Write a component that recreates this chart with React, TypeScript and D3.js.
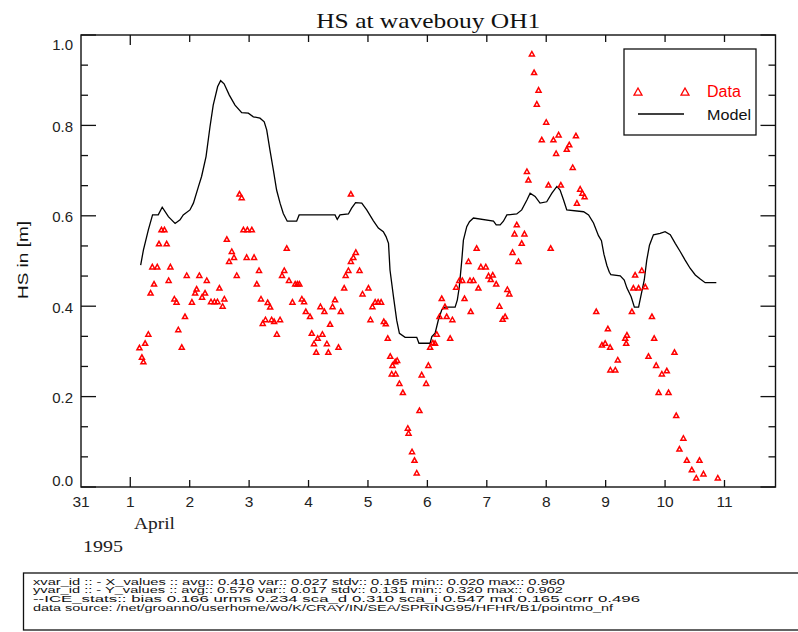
import React from "react";
import * as d3 from "d3";

// Hours since 1 April 1995 00:00
const obsHours = [3.7,4.7,5.3,6.0,7.3,8.2,8.9,9.6,10.9,11.6,12.6,13.8,14.7,15.5,16.2,17.8,18.7,19.4,20.8,22.1,22.8,24.9,26.2,26.8,27.9,29.0,30.2,30.9,32.6,34.0,35.2,36.0,37.3,38.0,39.0,39.9,41.0,41.9,43.0,44.1,45.0,45.7,47.0,47.3,49.1,50.0,51.1,52.0,52.8,53.5,54.6,55.5,56.5,57.1,58.1,59.2,60.5,61.3,62.2,63.2,64.1,65.5,66.6,67.5,68.3,69.3,70.2,70.9,72.6,73.3,74.2,75.1,75.7,76.8,77.6,78.4,79.4,80.0,80.7,81.7,82.7,84.1,85.0,86.4,87.0,88.1,89.1,89.1,90.1,91.1,92.6,93.8,96.2,97.0,97.8,98.9,100.1,101.3,102.4,103.2,104.0,105.0,105.6,105.9,107.0,107.2,107.8,108.7,110.1,112.1,112.4,113.8,114.8,115.7,116.8,117.7,119.5,120.4,121.1,122.2,123.1,123.8,124.9,125.8,127.1,127.8,129.2,130.1,131.6,132.9,134.1,135.0,136.6,137.2,137.5,138.6,139.9,140.6,141.6,143.6,144.7,145.6,146.4,147.8,149.1,150.4,151.4,152.3,153.1,154.4,155.2,156.1,156.8,158.1,159.2,160.2,160.8,162.2,163.1,164.2,164.9,166.2,168.0,168.9,169.8,170.9,172.0,173.0,173.9,176.3,177.3,178.7,180.0,180.4,181.7,182.6,183.5,188.2,190.5,191.8,192.9,193.8,193.9,195.9,196.9,199.9,200.3,200.6,202.6,203.2,203.9,205.3,206.6,208.0,209.3,210.7,211.6,212.4,213.4,214.7,216.7,217.4,219.8,220.5,221.8,223.4,224.8,226.8,228.6,229.9,231.5,237.3];
const obsHs = [0.308,0.287,0.277,0.318,0.338,0.429,0.487,0.449,0.487,0.538,0.569,0.569,0.538,0.457,0.487,0.416,0.409,0.348,0.309,0.377,0.468,0.409,0.429,0.438,0.468,0.420,0.429,0.457,0.410,0.410,0.410,0.440,0.400,0.416,0.548,0.499,0.521,0.508,0.468,0.648,0.640,0.569,0.508,0.569,0.569,0.508,0.449,0.479,0.416,0.362,0.370,0.408,0.398,0.370,0.366,0.338,0.370,0.468,0.479,0.528,0.457,0.409,0.449,0.449,0.449,0.416,0.410,0.388,0.377,0.340,0.317,0.298,0.329,0.399,0.338,0.388,0.317,0.298,0.360,0.399,0.414,0.309,0.388,0.440,0.468,0.479,0.499,0.648,0.508,0.519,0.479,0.427,0.440,0.370,0.399,0.409,0.409,0.409,0.366,0.361,0.329,0.289,0.250,0.269,0.277,0.250,0.280,0.229,0.209,0.130,0.119,0.078,0.059,0.031,0.169,0.248,0.229,0.269,0.309,0.319,0.318,0.338,0.377,0.417,0.399,0.377,0.329,0.370,0.442,0.457,0.457,0.417,0.499,0.457,0.388,0.457,0.528,0.440,0.487,0.487,0.467,0.459,0.469,0.449,0.400,0.371,0.377,0.437,0.427,0.519,0.560,0.580,0.499,0.539,0.560,0.698,0.679,0.958,0.917,0.847,0.878,0.768,0.807,0.668,0.528,0.768,0.738,0.779,0.668,0.747,0.757,0.707,0.777,0.628,0.659,0.650,0.642,0.388,0.314,0.318,0.350,0.309,0.259,0.259,0.281,0.329,0.318,0.336,0.388,0.440,0.469,0.440,0.479,0.443,0.289,0.377,0.329,0.269,0.209,0.250,0.257,0.209,0.298,0.158,0.084,0.108,0.059,0.038,0.020,0.059,0.029,0.020];

const modelHours = [4.2,5.3,7.3,9.0,11.3,12.9,15.4,18.1,20.1,21.4,24.1,25.5,27.5,28.8,30.6,32.2,33.5,35.3,36.5,37.9,40.0,42.3,45.0,47.7,49.7,52.4,54.1,55.1,56.4,57.8,59.1,60.5,61.8,63.4,67.2,68.2,82.7,83.6,84.7,88.1,89.4,91.0,93.5,95.5,98.2,100.2,102.2,103.3,104.3,104.9,106.3,107.6,108.7,111.0,115.7,116.6,121.1,121.8,123.1,124.45,125.8,127.1,131.2,132.1,132.9,133.9,134.55,135.9,137.0,138.6,146.7,147.8,149.4,150.7,152.1,156.1,158.1,160.2,161.5,163.5,165.5,168.2,170.3,172.3,173.6,175.0,176.3,183.1,185.1,187.1,189.1,190.3,191.3,192.5,193.5,194.1,197.9,199.5,200.6,202.3,203.6,205.3,206.6,207.6,208.6,209.7,211.3,214.0,216.0,218.1,220.1,222.1,224.1,226.1,228.2,230.2,232.2,236.7];
const modelHs = [0.491,0.524,0.569,0.602,0.602,0.619,0.598,0.583,0.591,0.602,0.613,0.628,0.664,0.687,0.731,0.797,0.845,0.886,0.899,0.892,0.867,0.845,0.828,0.827,0.819,0.816,0.808,0.790,0.746,0.701,0.657,0.628,0.605,0.588,0.588,0.602,0.602,0.592,0.602,0.604,0.617,0.629,0.628,0.613,0.589,0.573,0.565,0.554,0.539,0.480,0.421,0.369,0.340,0.331,0.331,0.318,0.318,0.333,0.340,0.370,0.392,0.398,0.398,0.414,0.443,0.502,0.546,0.576,0.587,0.595,0.588,0.580,0.580,0.588,0.602,0.604,0.613,0.635,0.650,0.643,0.628,0.631,0.650,0.665,0.657,0.635,0.613,0.609,0.602,0.584,0.556,0.545,0.515,0.490,0.475,0.470,0.467,0.458,0.440,0.421,0.398,0.398,0.432,0.458,0.502,0.535,0.558,0.561,0.565,0.558,0.539,0.521,0.502,0.484,0.469,0.460,0.452,0.452];

const xTickHours = [0,24,48,72,96,120,144,168,192,216,240];
const xTickLabels = ["1","2","3","4","5","6","7","8","9","10","11"];
const xStartLabel = "31";
const yMajorTicks = [0,0.2,0.4,0.6,0.8,1.0];
const yMinorTicks = [0.0667,0.1333,0.2667,0.3333,0.4667,0.5333,0.6667,0.7333,0.8667,0.9333];

const titleText = "HS  at wavebouy OH1";
const yLabelText = "HS in [m]";
const monthText = "April";
const yearText = "1995";
const legendData = "Data";
const legendModel = "Model";
const infoLines = [
  "xvar_id :: - X_values :: avg:: 0.410 var:: 0.027 stdv:: 0.165 min:: 0.020 max:: 0.960",
  "yvar_id :: - Y_values :: avg:: 0.576 var:: 0.017 stdv:: 0.131 min:: 0.320 max:: 0.902",
  "--ICE_stats:: bias 0.166 urms 0.234 sca_d 0.310 sca_i 0.547 md 0.165 corr 0.496",
  "data source:   /net/groann0/userhome/wo/K/CRAY/IN/SEA/SPRING95/HFHR/B1/pointmo_nf",
];
const infoWidths = [532, 530, 607, 580];

const W = 798, H = 632;
const left = 81, right = 775.5, top = 35, bottom = 487;

export default function App() {
  const x = d3.scaleLinear().domain([-19.9, 260.6]).range([left, right]);
  const y = d3.scaleLinear().domain([0, 1]).range([bottom, top]);
  const line = d3.line<number>().x((_, i) => x(modelHours[i])).y((d) => y(d));
  const tri = (cx: number, cy: number, s: number) =>
    `M${cx - s / 2},${cy + s * 0.4} L${cx + s / 2},${cy + s * 0.4} L${cx},${cy - s * 0.5} Z`;
  const clampY = (v: number) => Math.max(top + 9, Math.min(bottom - 7, y(v) + 1));
  const sans = "'Liberation Sans', Arial, sans-serif";
  const serif = "'Liberation Serif', 'Times New Roman', serif";
  return (
    <svg width={W} height={H} style={{ position: "absolute", left: 0, top: 0, background: "#fff" }}>
      <rect x={0} y={0} width={W} height={H} fill="#fff" />
      <text x={(left + right) / 2} y={28} textAnchor="middle" fontFamily={serif} fontSize={21}
        textLength={224} lengthAdjust="spacingAndGlyphs" fill="#111">{titleText}</text>
      {/* axes frame */}
      <rect x={left} y={top} width={right - left} height={bottom - top} fill="none" stroke="#111" strokeWidth={1.4} />
      {yMajorTicks.map((v) => (
        <g key={"ym" + v}>
          <line x1={left} x2={left + 15} y1={y(v)} y2={y(v)} stroke="#111" strokeWidth={1.3} />
          <line x1={right} x2={right - 15} y1={y(v)} y2={y(v)} stroke="#111" strokeWidth={1.3} />
          <text x={73} y={clampY(v)} textAnchor="end" dominantBaseline="central" fontFamily={sans}
            fontSize={15} fill="#222">{v.toFixed(1)}</text>
        </g>
      ))}
      {yMinorTicks.map((v) => (
        <g key={"yn" + v}>
          <line x1={left} x2={left + 7} y1={y(v)} y2={y(v)} stroke="#111" strokeWidth={1.3} />
          <line x1={right} x2={right - 7} y1={y(v)} y2={y(v)} stroke="#111" strokeWidth={1.3} />
        </g>
      ))}
      {xTickHours.map((h, i) => {
        const len = i === 0 ? 10 : 7;
        return (
          <g key={"xt" + h}>
            <line x1={x(h)} x2={x(h)} y1={bottom} y2={bottom - len} stroke="#111" strokeWidth={1.3} />
            <line x1={x(h)} x2={x(h)} y1={top} y2={top + len} stroke="#111" strokeWidth={1.3} />
            <text x={x(h)} y={506.5} textAnchor="middle" fontFamily={sans} fontSize={15.5} fill="#222">{xTickLabels[i]}</text>
          </g>
        );
      })}
      <text x={left} y={506.5} textAnchor="middle" fontFamily={sans} fontSize={15.5} fill="#222">{xStartLabel}</text>
      <text x={134} y={529} fontFamily={serif} fontSize={17} textLength={41} lengthAdjust="spacingAndGlyphs" fill="#222">{monthText}</text>
      <text x={83} y={552} fontFamily={serif} fontSize={17} textLength={40} lengthAdjust="spacingAndGlyphs" fill="#222">{yearText}</text>
      <text transform={`translate(28,260) rotate(-90)`} textAnchor="middle" fontFamily={sans} fontSize={14}
        textLength={78} lengthAdjust="spacingAndGlyphs" fill="#111">{yLabelText}</text>
      {/* model */}
      <path d={line(modelHs) || ""} fill="none" stroke="#000" strokeWidth={1.3} />
      {/* data */}
      {obsHs.map((v, i) => (
        <path key={"o" + i} d={tri(x(obsHours[i]), y(v), 5)} fill="none" stroke="#ff0000" strokeWidth={1.5} />
      ))}
      {/* legend */}
      <rect x={624} y={49} width={132} height={86} fill="#fff" stroke="#111" strokeWidth={1.3} />
      <path d={tri(638, 92, 8)} fill="none" stroke="#ff0000" strokeWidth={1.3} />
      <path d={tri(685, 92, 8)} fill="none" stroke="#ff0000" strokeWidth={1.3} />
      <text x={707} y={97} fontFamily={sans} fontSize={16} fill="#ff0000">{legendData}</text>
      <line x1={638} x2={684} y1={114} y2={114} stroke="#000" strokeWidth={1.3} />
      <text x={707} y={119.5} fontFamily={sans} fontSize={15.5} textLength={44} lengthAdjust="spacingAndGlyphs" fill="#111">{legendModel}</text>
      {/* info box */}
      <rect x={23.5} y={573} width={800} height={57} fill="none" stroke="#111" strokeWidth={1.3} />
      {infoLines.map((t, i) => (
        <text key={"il" + i} x={33} y={584.5 + i * 8.9} fontFamily={sans} fontSize={8.4}
          textLength={infoWidths[i]} lengthAdjust="spacingAndGlyphs" fill="#111">{t}</text>
      ))}
    </svg>
  );
}
